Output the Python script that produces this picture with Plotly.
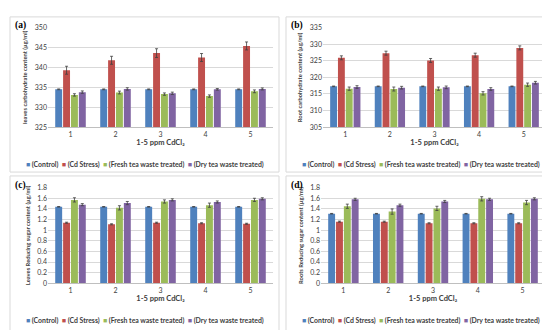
import plotly.graph_objects as go

W, H = 550, 330

categories = ["1", "2", "3", "4", "5"]
series_names = ["(Control)", "(Cd Stress)", "(Fresh tea waste treated)", "(Dry tea waste treated)"]
colors = ["#4F81BD", "#C0504D", "#9BBB59", "#8064A2"]

# (a) leaves carbohydrate content
a_control = [334.5, 334.5, 334.5, 334.5, 334.5]
a_cd = [339.3, 341.8, 343.6, 342.5, 345.4]
a_fresh = [333.1, 333.7, 333.3, 332.8, 334.0]
a_dry = [333.8, 334.6, 333.5, 334.5, 334.6]
a_err_control = [0.1, 0.1, 0.1, 0.1, 0.1]
a_err_cd = [1.0, 1.0, 1.1, 1.0, 1.0]
a_err_fresh = [0.3, 0.35, 0.3, 0.3, 0.35]
a_err_dry = [0.3, 0.3, 0.3, 0.2, 0.25]

# (b) root carbohydrate content
b_control = [317.3, 317.3, 317.3, 317.3, 317.3]
b_cd = [325.9, 327.3, 325.1, 326.7, 328.9]
b_fresh = [316.6, 316.5, 316.6, 315.2, 317.8]
b_dry = [317.1, 316.9, 317.0, 316.5, 318.4]
b_err_control = [0.1, 0.1, 0.1, 0.1, 0.1]
b_err_cd = [0.6, 0.6, 0.6, 0.6, 0.6]
b_err_fresh = [0.5, 0.6, 0.5, 0.5, 0.5]
b_err_dry = [0.4, 0.4, 0.4, 0.4, 0.4]

# (c) leaves reducing sugar content
c_control = [1.44, 1.44, 1.44, 1.44, 1.44]
c_cd = [1.14, 1.11, 1.14, 1.13, 1.12]
c_fresh = [1.57, 1.42, 1.54, 1.47, 1.57]
c_dry = [1.48, 1.51, 1.57, 1.53, 1.59]
c_err_control = [0.005, 0.005, 0.005, 0.005, 0.005]
c_err_cd = [0.01, 0.01, 0.01, 0.01, 0.01]
c_err_fresh = [0.04, 0.04, 0.03, 0.04, 0.03]
c_err_dry = [0.02, 0.03, 0.02, 0.02, 0.02]

# (d) roots reducing sugar content
d_control = [1.31, 1.31, 1.31, 1.31, 1.31]
d_cd = [1.16, 1.16, 1.13, 1.13, 1.13]
d_fresh = [1.45, 1.35, 1.41, 1.59, 1.52]
d_dry = [1.58, 1.47, 1.54, 1.58, 1.59]
d_err_control = [0.005, 0.005, 0.005, 0.005, 0.005]
d_err_cd = [0.01, 0.01, 0.01, 0.01, 0.01]
d_err_fresh = [0.04, 0.05, 0.04, 0.04, 0.04]
d_err_dry = [0.02, 0.02, 0.02, 0.02, 0.02]

x_title = "1-5 ppm CdCl₂"

panels = [
    dict(label="(a)", ytitle="leaves carbohydrate content (µg/ml)", rng=[325, 350], dtick=5,
         vals=[a_control, a_cd, a_fresh, a_dry], errs=[a_err_control, a_err_cd, a_err_fresh, a_err_dry],
         box=(2, 4, 271, 163), plot=(40, 15, 265, 117), legy=155),
    dict(label="(b)", ytitle="Root carbohydrate content (µg/ml)", rng=[305, 335], dtick=5,
         vals=[b_control, b_cd, b_fresh, b_dry], errs=[b_err_control, b_err_cd, b_err_fresh, b_err_dry],
         box=(278, 4, 547, 163), plot=(315, 15, 538, 117), legy=155),
    dict(label="(c)", ytitle="Leaves Reducing sugar content (µg/ml)", rng=[0, 1.8], dtick=0.2,
         vals=[c_control, c_cd, c_fresh, c_dry], errs=[c_err_control, c_err_cd, c_err_fresh, c_err_dry],
         box=(2, 167, 271, 328), plot=(40, 179, 265, 277), legy=315),
    dict(label="(d)", ytitle="Roots Reducing sugar content (µg/ml)", rng=[0, 1.8], dtick=0.2,
         vals=[d_control, d_cd, d_fresh, d_dry], errs=[d_err_control, d_err_cd, d_err_fresh, d_err_dry],
         box=(278, 167, 547, 328), plot=(313, 179, 537, 277), legy=315),
]

FONT = "Lato"
fig = go.Figure()
shapes = []
annotations = []
layout = {}

def px_x(v):
    return v / W

def px_y(v):
    return 1 - v / H

for i, p in enumerate(panels):
    n = "" if i == 0 else str(i + 1)
    xa, ya = "x" + n, "y" + n
    for j in range(4):
        fig.add_trace(go.Bar(
            x=categories, y=p["vals"][j], name=series_names[j],
            marker=dict(color=colors[j], line=dict(width=0)),
            error_y=dict(type="data", array=p["errs"][j], visible=True,
                         color="#404040", thickness=0.8, width=1.5),
            xaxis=xa, yaxis=ya, showlegend=False,
        ))
    x0, y0, x1, y1 = p["plot"]
    layout["xaxis" + n] = dict(
        domain=[px_x(x0), px_x(x1)], anchor=ya, showgrid=False,
        showline=True, linecolor="#BFBFBF", linewidth=1, ticks="",
        tickfont=dict(size=7, color="#404040", family=FONT),
        title=dict(text="<b>" + x_title + "</b>", font=dict(size=7.5, color="#404040", family=FONT), standoff=3),
    )
    layout["yaxis" + n] = dict(
        domain=[px_y(y1), px_y(y0)], anchor=xa, range=p["rng"], dtick=p["dtick"],
        showgrid=True, gridcolor="#D9D9D9", gridwidth=1, zeroline=False, showline=False, ticks="",
        tickfont=dict(size=7, color="#404040", family=FONT),
        title=dict(text="<b>" + p["ytitle"] + "</b>", font=dict(size=5.8, color="#404040", family=FONT), standoff=6),
    )
    bx0, by0, bx1, by1 = p["box"]
    shapes.append(dict(type="rect", xref="paper", yref="paper",
                       x0=px_x(bx0), x1=px_x(bx1), y0=px_y(by1), y1=px_y(by0),
                       line=dict(color="#D9D9D9", width=1), fillcolor="rgba(0,0,0,0)", layer="below"))
    annotations.append(dict(text="<b>" + p["label"] + "</b>", xref="paper", yref="paper",
                            x=px_x(bx0 + 3), y=px_y(y0 - 2), xanchor="left", yanchor="middle",
                            showarrow=False, font=dict(size=9.5, color="#000000", family="Liberation Serif")))
    leg = "&nbsp;&nbsp;".join(
        f"<span style='color:{colors[j]}'>■</span> {series_names[j]}" for j in range(4))
    annotations.append(dict(text="<b>" + leg + "</b>", xref="paper", yref="paper",
                            x=px_x((bx0 + bx1) / 2), y=px_y(p["legy"]), xanchor="center", yanchor="middle",
                            showarrow=False, font=dict(size=6.9, color="#404040", family=FONT)))

fig.update_layout(
    width=W, height=H, margin=dict(l=0, r=0, t=0, b=0),
    paper_bgcolor="white", plot_bgcolor="white",
    barmode="group", bargap=0.3, bargroupgap=0.12,
    shapes=shapes, annotations=annotations, showlegend=False,
    **layout,
)

fig.write_html("out.html")
